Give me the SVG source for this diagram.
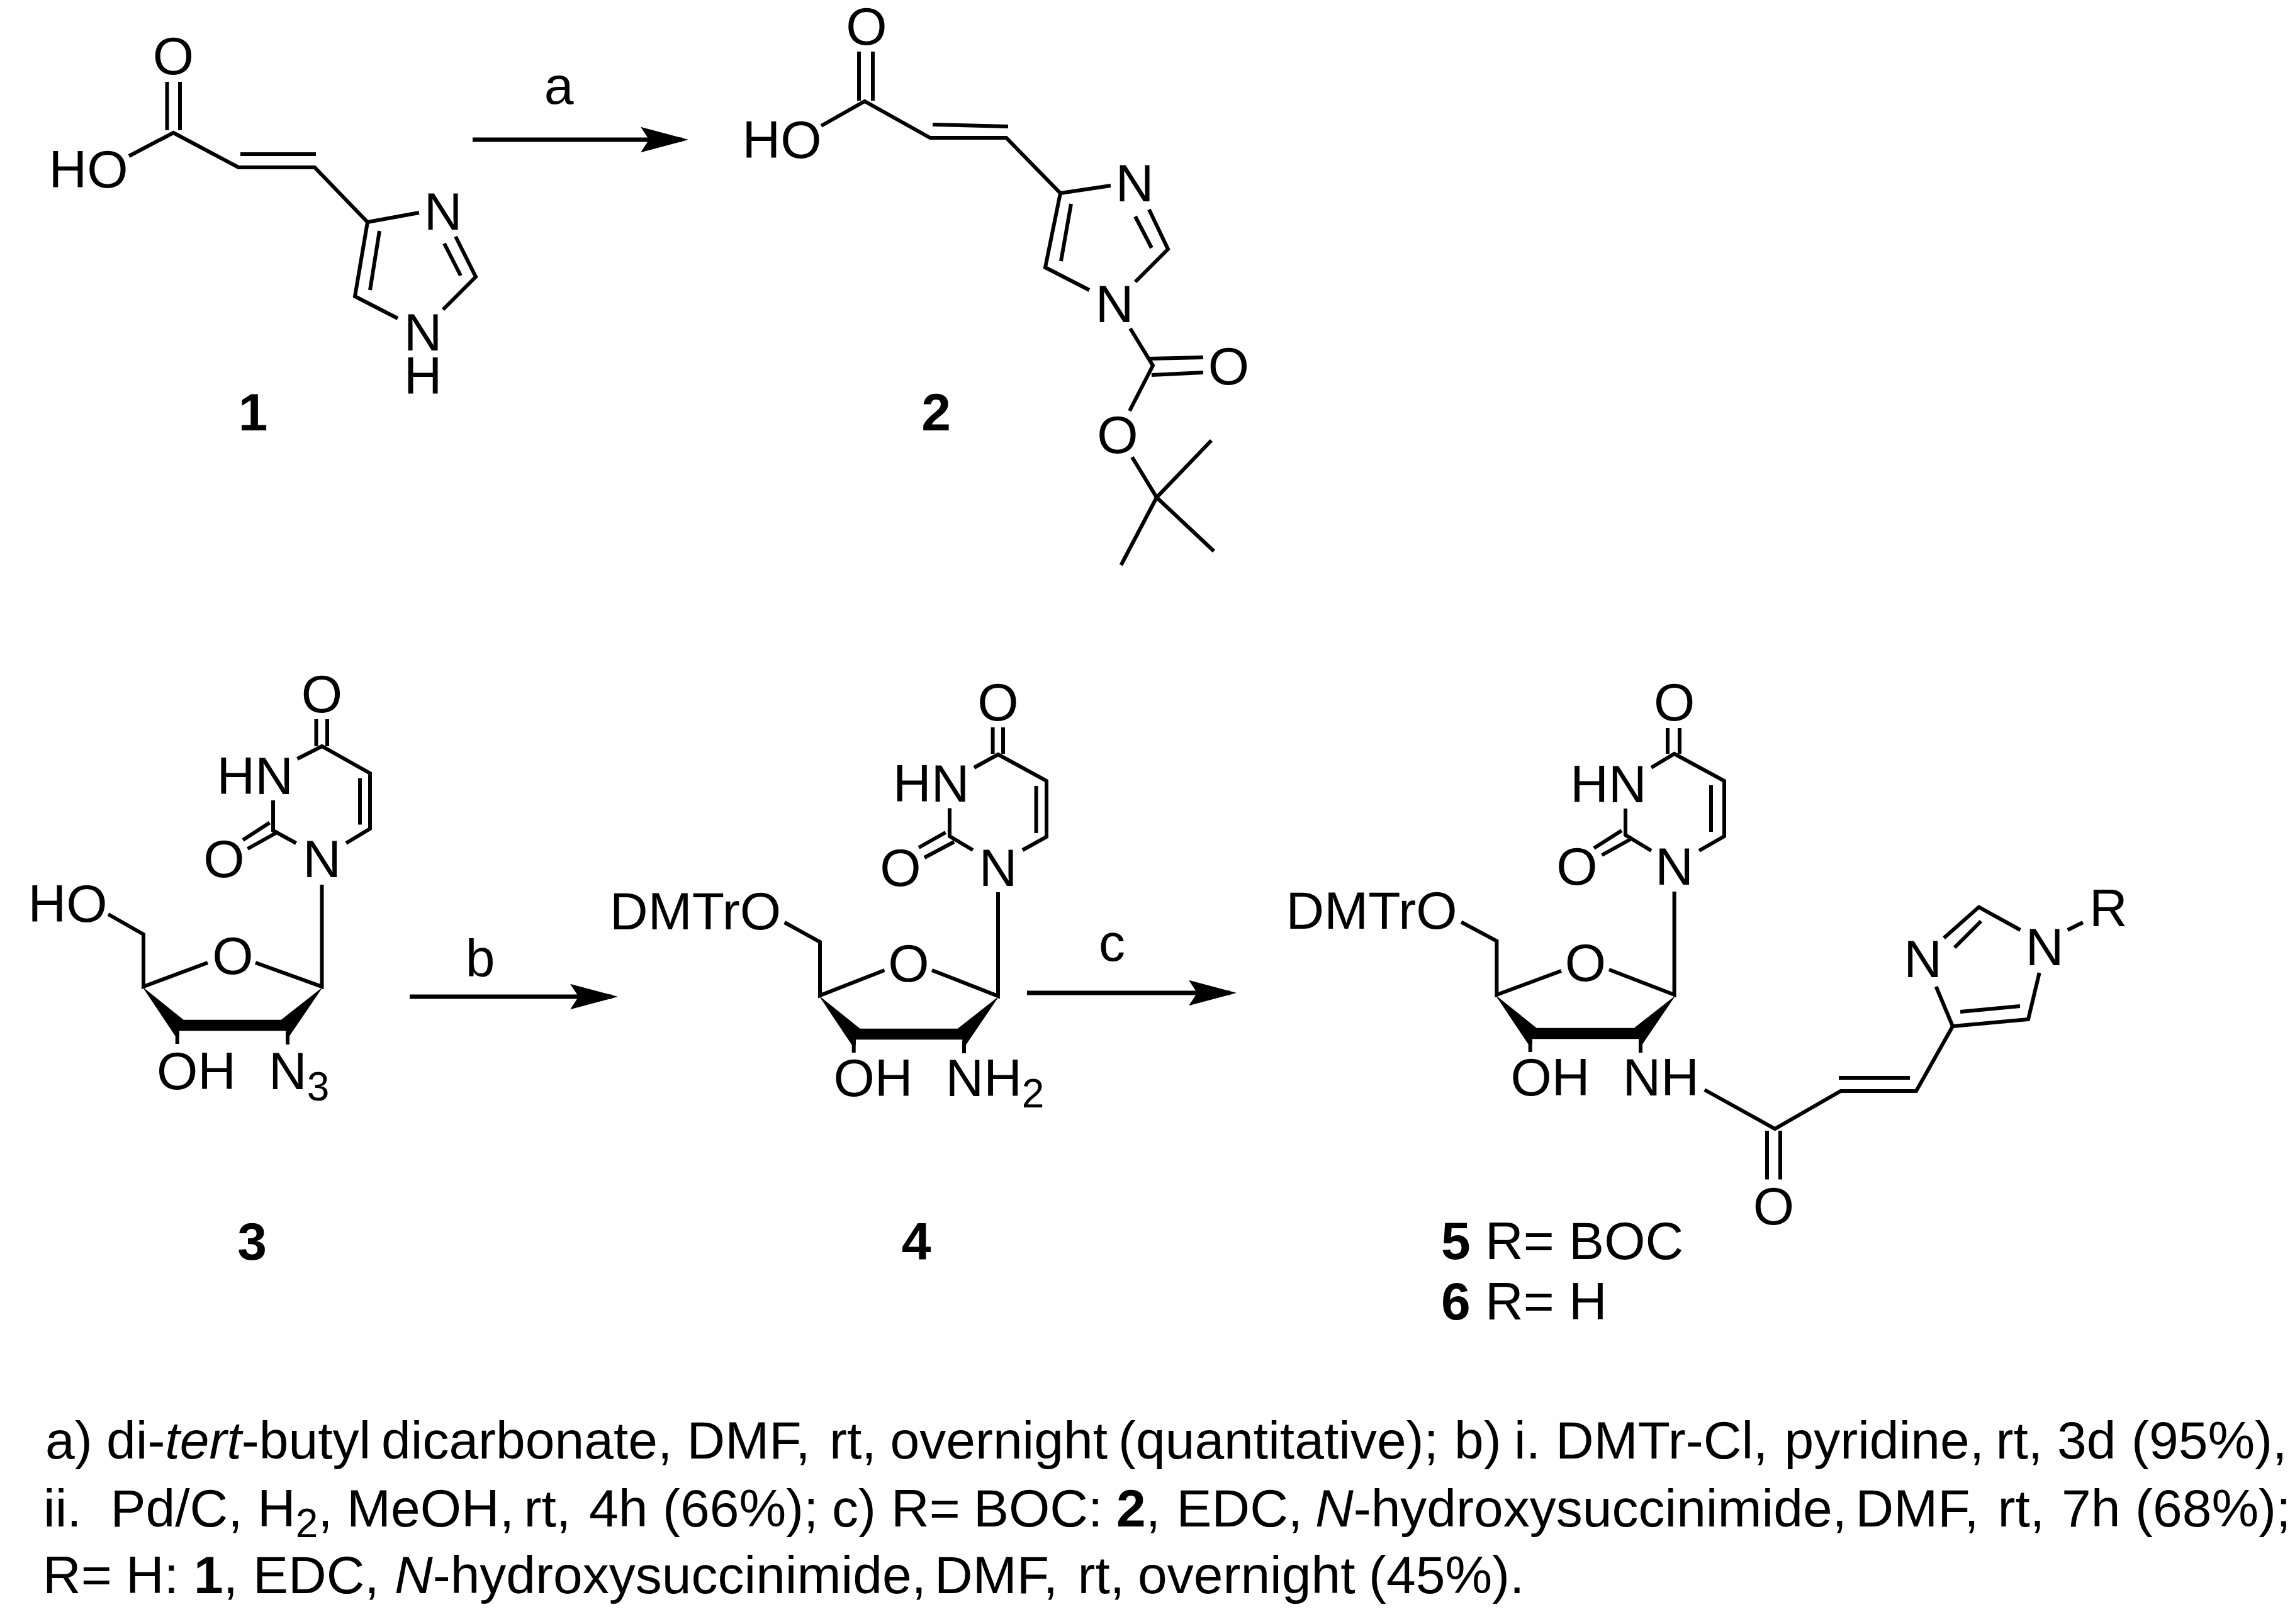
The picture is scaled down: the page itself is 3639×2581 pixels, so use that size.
<svg xmlns="http://www.w3.org/2000/svg" width="3639" height="2581" viewBox="0 0 3639 2581">
<style>
text{font-family:"Liberation Sans",Arial,sans-serif;font-size:84px;fill:#000}
.m{text-anchor:middle}
.b{font-weight:bold}
.i{font-style:italic}
.s{font-size:64px}
.bond{fill:none;stroke:#000;stroke-width:6}
.wedge{fill:#000;stroke:none}
.arrow{fill:none;stroke:#000;stroke-width:7}
</style>
<defs>
<marker id="head" markerUnits="userSpaceOnUse" markerWidth="76" markerHeight="42" viewBox="0 0 75 40" refX="65" refY="20" orient="auto"><path d="M75 20L0 0L13 20L0 40Z" fill="#000"/></marker>
</defs>
<rect width="3639" height="2581" fill="#fff"/>
<g id="connectors">
<line class="arrow" x1="751" y1="222" x2="1084" y2="222" marker-end="url(#head)"/>
<line class="arrow" x1="651" y1="1584" x2="972" y2="1584" marker-end="url(#head)"/>
<line class="arrow" x1="1632" y1="1578" x2="1955" y2="1578" marker-end="url(#head)"/>
<text class="m" x="888" y="165">a</text>
<text class="m" x="763" y="1552">b</text>
<text class="m" x="1767" y="1527">c</text>
</g>
<g id="compound-1">
<path class="bond" d="M265.5 130V207M286 130V207M205 248L275.5 211L379 266H500L584 353L666 338M382 245H502M584 353L564 471L632 506M603 367L588 461M704 492L756 440L724 376M732 438L706 387"/>
<text class="m" x="275.5" y="118">O</text>
<text x="77.5" y="298">HO</text>
<text class="m" x="704" y="365">N</text>
<text class="m" x="672" y="557">N</text>
<text class="m" x="672" y="626">H</text>
<text class="m b" x="402" y="684">1</text>
</g>
<g id="compound-2">
<path class="bond" d="M1365 82V160M1387 82V160M1305 200L1374 161L1478 219H1599L1685 307L1765 295M1482 198L1602 201M1685 307L1661 425L1731 461M1702 324L1686 415M1804 448L1856 396L1826 333M1830 394L1804 344M1796 522L1832 581L1795 653M1827 570L1912 568M1830 596L1912 592M1799 726.5L1838 790.5L1925 700M1838 790.5L1929 876M1838 790.5L1781.5 898"/>
<text class="m" x="1377" y="71">O</text>
<text x="1179.5" y="251">HO</text>
<text class="m" x="1803" y="320">N</text>
<text class="m" x="1771" y="512">N</text>
<text class="m" x="1952.5" y="611">O</text>
<text class="m" x="1776" y="720">O</text>
<text class="m b" x="1487.5" y="684">2</text>
</g>
<g id="compound-3">
<path class="bond" d="M502.5 1143V1186M520 1143V1186M472.5 1206L511.5 1186L588 1229V1317L550 1340M572 1237V1310.6M434 1272V1320L470.5 1340M428.5 1307.5L386 1335M440 1323L393.5 1349M511.5 1406V1568L406 1530M330 1530L228 1568V1485L172 1453M281.7 1640V1659M457 1640V1660"/>
<path class="wedge" d="M226 1568L291.7 1620.7H446.7L512.7 1569L460 1646.5H454.3V1638.3H285V1646.5H278.5Z"/>
<text class="m" x="511.5" y="1132">O</text>
<text x="344.6" y="1262">HN</text>
<text class="m" x="356" y="1394">O</text>
<text class="m" x="511.5" y="1394">N</text>
<text x="44.5" y="1465">HO</text>
<text class="m" x="370" y="1548">O</text>
<text x="249" y="1730.5">OH</text>
<text x="427" y="1730.5">N<tspan class="s" dy="18">3</tspan></text>
<text class="m b" x="400.5" y="2002">3</text>
</g>
<g id="compound-4">
<path class="bond" d="M1577.6 1156V1198M1594 1156V1198M1548 1220L1586 1199L1663 1241V1330L1625 1351M1646.6 1249V1324M1509 1284.5V1329L1546 1351M1502.6 1323L1460 1347M1516 1338L1469 1363M1586 1418V1583L1481 1542M1405.5 1542L1303 1582V1497L1246.7 1466M1356.7 1654V1673M1532 1654V1674"/>
<path class="wedge" d="M1301 1582L1366.7 1634.7H1521.7L1587.7 1583L1535 1660.5H1529.3V1652.3H1360V1660.5H1353.5Z"/>
<text class="m" x="1586" y="1145">O</text>
<text x="1419" y="1274">HN</text>
<text class="m" x="1431" y="1408">O</text>
<text class="m" x="1586" y="1408">N</text>
<text x="969" y="1477">DMTrO</text>
<text class="m" x="1444" y="1560">O</text>
<text x="1324.4" y="1742">OH</text>
<text x="1502.5" y="1742">NH<tspan class="s" dy="18">2</tspan></text>
<text class="m b" x="1456" y="2002">4</text>
</g>
<g id="compound-5-6">
<path class="bond" d="M2650 1157V1198M2669 1157V1198M2624 1220L2660.6 1198L2740 1241V1329L2700 1352M2719 1248V1322M2583 1285V1327L2624 1352M2577 1320L2533 1348M2590.6 1334L2545.6 1359M2660.6 1417V1581L2557 1541M2481 1543L2378.4 1581V1495.6L2322 1465.4M2431.7 1653V1672M2607 1653V1673M2708.7 1732L2820.5 1794L2925 1734H3045L3103 1631L3076.6 1568M2922 1713H3035M2808 1797V1874.5M2829 1797V1874.5M3103 1631L3223 1620L3240.7 1546M3115 1608L3210 1599M3210.4 1478L3144.6 1441.6L3089 1490.7M3148 1464L3106 1506M3285.7 1478L3310 1466"/>
<path class="wedge" d="M2376 1581L2441.7 1633.7H2596.7L2662.7 1582L2610 1659.5H2604.3V1651.3H2435V1659.5H2428.5Z"/>
<text class="m" x="2660.6" y="1145">O</text>
<text x="2495.3" y="1274.6">HN</text>
<text class="m" x="2506" y="1406">O</text>
<text class="m" x="2660.6" y="1406">N</text>
<text x="2043.5" y="1476">DMTrO</text>
<text class="m" x="2519.5" y="1559">O</text>
<text x="2400.5" y="1741">OH</text>
<text x="2578.5" y="1741">NH</text>
<text class="m" x="2818.5" y="1946">O</text>
<text class="m" x="3055.7" y="1553">N</text>
<text class="m" x="3249" y="1534">N</text>
<text x="3320" y="1472">R</text>
<text x="2290" y="2001"><tspan class="b">5</tspan> R= BOC</text>
<text x="2290" y="2097"><tspan class="b">6</tspan> R= H</text>
</g>
<g id="caption">
<text y="2317.5"><tspan x="72">a) </tspan><tspan x="169">di-<tspan class="i">tert</tspan>-butyl </tspan><tspan x="606">dicarbonate, </tspan><tspan x="1091.5">DMF, </tspan><tspan x="1318">rt, </tspan><tspan x="1414.5">overnight </tspan><tspan x="1777">(quantitative); </tspan><tspan x="2311">b) </tspan><tspan x="2406">i. </tspan><tspan x="2472">DMTr-Cl, </tspan><tspan x="2835.5">pyridine, </tspan><tspan x="3171.5">rt, </tspan><tspan x="3269">3d </tspan><tspan x="3387">(95%),</tspan></text>
<text y="2426"><tspan x="69">ii. </tspan><tspan x="175.5">Pd/C, </tspan><tspan x="409">H<tspan class="s" dy="17">2</tspan><tspan dy="-17">, </tspan></tspan><tspan x="551">MeOH, </tspan><tspan x="832.5">rt, </tspan><tspan x="936">4h </tspan><tspan x="1053">(66%); </tspan><tspan x="1322">c) </tspan><tspan x="1416">R= </tspan><tspan x="1547">BOC: </tspan><tspan x="1774"><tspan class="b">2</tspan>, </tspan><tspan x="1869.5">EDC, </tspan><tspan x="2090"><tspan class="i">N</tspan>-hydroxysuccinimide, </tspan><tspan x="2948.5">DMF, </tspan><tspan x="3174.5">rt, </tspan><tspan x="3276">7h </tspan><tspan x="3393">(68%);</tspan></text>
<text y="2532"><tspan x="68">R= </tspan><tspan x="200">H: </tspan><tspan x="308"><tspan class="b">1</tspan>, </tspan><tspan x="402">EDC, </tspan><tspan x="627"><tspan class="i">N</tspan>-hydroxysuccinimide, </tspan><tspan x="1485">DMF, </tspan><tspan x="1712.5">rt, </tspan><tspan x="1808">overnight </tspan><tspan x="2175">(45%).</tspan></text>
</g>
</svg>
